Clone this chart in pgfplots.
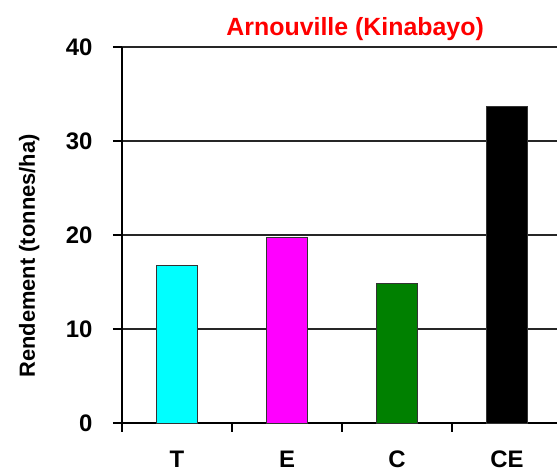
\documentclass[border=0pt]{standalone}
\usepackage{fontspec}
\setmainfont{Liberation Sans}
\usepackage{pgfplots}
\pgfplotsset{compat=1.18}
\definecolor{bcyan}{RGB}{0,255,255}
\definecolor{bmag}{RGB}{255,0,255}
\definecolor{bgreen}{RGB}{0,128,0}
\definecolor{tred}{RGB}{255,0,0}
\begin{document}
\begin{tikzpicture}
\begin{axis}[
  name=ax,
  at={(0,0)}, anchor=south west,
  scale only axis,
  width=435bp, height=376bp,
  xmin=-0.5, xmax=3.4545,
  ymin=0, ymax=40,
  axis x line*=bottom, axis y line*=left,
  axis line style={line width=1.8bp, -},
  ytick={0,10,20,30,40},
  xtick={-0.5,0.5,1.5,2.5},
  xticklabels={},
  extra x ticks={0,1,2,3},
  extra x tick labels={T,E,C,CE},
  extra x tick style={major tick length=0pt, xticklabel style={anchor=base, yshift=-45bp}},
  major tick length=9bp,
  tick align=outside,
  tick style={line width=1.8bp, black},
  ymajorgrids,
  major grid style={line width=1.2bp, black!85},
  /pgf/number format/assume math mode=true,
  yticklabel style={font=\fontsize{24}{28}\selectfont\bfseries, anchor=east, xshift=-17bp},
  xticklabel style={font=\fontsize{24}{28}\selectfont\bfseries},
  ylabel={Rendement (tonnes/ha)},
  ylabel style={font=\fontsize{22}{26}\selectfont\bfseries, at={(axis description cs:0,0.5)}, anchor=base, yshift=87bp, xshift=-21bp},
  ybar, bar width=41bp, bar shift=0pt,
  clip=false,
]
\addplot[fill=bcyan, draw=black!80, line width=0.8bp] coordinates {(0,16.75)};
\addplot[fill=bmag, draw=black!80, line width=0.8bp] coordinates {(1,19.75)};
\addplot[fill=bgreen, draw=black!80, line width=0.8bp] coordinates {(2,14.9)};
\addplot[fill=black, draw=black!80, line width=0.8bp] coordinates {(3,33.65)};
\node[font=\fontsize{25}{29}\selectfont\bfseries, text=tred, anchor=base] at (axis description cs:0.536,1) [yshift=11bp] {Arnouville (Kinabayo)};
\end{axis}
\pgfresetboundingbox
\path[use as bounding box] ([xshift=-122bp,yshift=-49bp]ax.south west) rectangle ([yshift=47bp]ax.north east);
\end{tikzpicture}
\end{document}
